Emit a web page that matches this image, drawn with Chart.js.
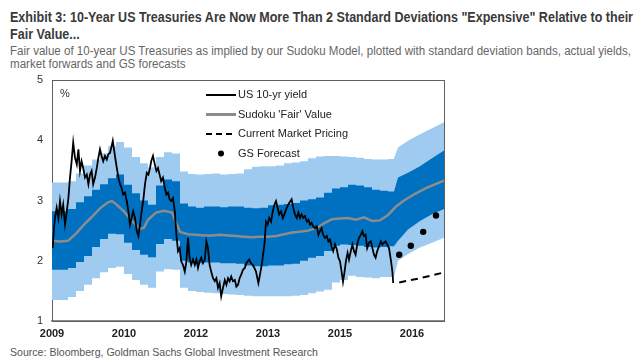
<!DOCTYPE html>
<html>
<head>
<meta charset="utf-8">
<script src="https://cdn.jsdelivr.net/npm/chart.js@4/dist/chart.umd.min.js"></script>
<style>
  html, body { margin: 0; padding: 0; background: #fff; }
  body { width: 640px; height: 361px; position: relative; overflow: hidden; font-family: "Liberation Sans", Arial, sans-serif; }
  .txt { position: absolute; left: 10px; white-space: nowrap; transform-origin: 0 0; }
  .title { font-weight: bold; font-size: 14px; color: #3a3a3a; }
  .sub { font-size: 12.5px; color: #666; }
  .src { font-size: 11.5px; color: #555; }
  #wrap { position: absolute; left: 0; top: 0; width: 640px; height: 361px; }
</style>
</head>
<body>
<div class="txt title" data-w="623" style="top:9px">Exhibit 3: 10-Year US Treasuries Are Now More Than 2 Standard Deviations "Expensive" Relative to their</div>
<div class="txt title" style="top:26px">Fair Value...</div>
<div class="txt sub" data-w="621" style="top:44px">Fair value of 10-year US Treasuries as implied by our Sudoku Model, plotted with standard deviation bands, actual yields,</div>
<div class="txt sub" style="top:57px">market forwards and GS forecasts</div>
<div class="txt src" data-w="308" style="top:346px">Source: Bloomberg, Goldman Sachs Global Investment Research</div>
<div id="wrap"><canvas id="chart"></canvas></div>
<script>
// x values are months since Jan 2009
const tickMonths = [0, 18, 36, 54, 72, 90];
const tickLabels = ["2009", "2010", "2012", "2013", "2015", "2016"];

// US 10-yr yield
const yieldM = [0.17,0.5,0.75,1.17,1.6,2.0,2.4,2.8,3.25,3.7,4.1,4.5,4.9,5.3,5.75,6.2,6.6,7.0,7.4,7.8,8.25,8.7,9.1,9.5,9.9,10.3,10.75,11.2,11.6,12.0,12.4,12.8,13.25,13.7,14.1,14.5,14.9,15.2,15.5,15.8,16.2,16.6,17.0,17.4,17.8,18.25,18.7,19.1,19.5,19.9,20.3,20.75,21.2,21.6,22.0,22.4,22.8,23.25,23.7,24.1,24.5,24.8,25.25,25.7,26.1,26.5,26.9,27.3,27.75,28.2,28.6,29.0,29.4,29.8,30.25,30.7,31.1,31.5,31.9,32.3,32.75,33.2,33.6,34.0,34.4,34.8,35.25,35.7,36.1,36.5,36.9,37.3,37.75,38.2,38.6,39.0,39.4,39.8,40.25,40.7,41.1,41.5,41.9,42.3,42.75,43.2,43.6,44.0,44.4,44.8,45.25,45.7,46.1,46.5,46.9,47.3,47.75,48.2,48.6,48.9,49.3,49.75,50.2,50.6,51.0,51.6,52.0,52.5,53.1,53.5,53.9,54.3,54.75,55.2,55.6,56.0,56.4,56.8,57.25,57.7,58.1,58.5,58.9,59.3,59.9,60.3,60.75,61.2,61.6,62.0,62.4,62.8,63.25,63.7,64.1,64.5,64.9,65.3,65.75,66.2,66.6,67.0,67.4,67.8,68.25,68.7,69.1,69.5,69.9,70.3,70.75,71.2,71.6,72.0,72.4,72.75,73.1,73.5,73.9,74.25,74.7,75.1,75.5,75.9,76.3,76.75,77.2,77.6,78.0,78.4,78.8,79.25,79.7,80.1,80.5,80.9,81.3,81.75,82.2,82.6,83.0,83.4,83.8,84.25,84.7,85.1,85.3];
const yieldV = [2.21,2.54,2.71,2.88,2.71,2.99,2.77,2.93,2.6,2.82,3.04,3.38,3.65,3.96,3.71,3.6,3.85,3.49,3.65,3.54,3.38,3.43,3.27,3.43,3.49,3.27,3.38,3.54,3.71,3.85,3.74,3.65,3.74,3.68,3.77,3.79,3.9,3.99,3.85,3.71,3.54,3.38,3.27,3.21,3.1,3.13,2.99,2.82,2.6,2.71,2.82,2.71,2.49,2.41,2.6,2.82,2.99,3.27,3.46,3.43,3.54,3.65,3.74,3.6,3.49,3.54,3.43,3.32,3.38,3.21,3.1,3.13,3.02,2.99,3.04,2.82,2.43,2.16,2.21,1.99,1.93,1.82,1.99,2.38,2.05,1.93,2.02,1.93,2.02,1.88,1.99,2.05,1.96,2.02,2.32,2.21,1.93,1.82,1.71,1.66,1.71,1.55,1.63,1.41,1.55,1.68,1.6,1.71,1.66,1.74,1.66,1.68,1.57,1.6,1.71,1.77,1.85,1.88,1.96,1.99,2.02,1.96,1.93,1.88,1.82,1.63,1.77,1.96,2.27,2.65,2.6,2.71,2.65,2.82,2.93,2.99,2.88,2.77,2.82,2.71,2.77,2.85,2.91,2.96,3.02,2.88,2.77,2.71,2.8,2.71,2.77,2.71,2.74,2.65,2.68,2.6,2.63,2.57,2.54,2.57,2.43,2.49,2.54,2.43,2.38,2.41,2.32,2.35,2.24,2.16,2.27,2.19,2.05,1.99,1.82,1.65,1.8,2.0,2.13,2.02,2.16,2.27,2.16,2.1,2.27,2.38,2.43,2.49,2.41,2.43,2.21,2.3,2.32,2.21,2.1,2.05,2.16,2.24,2.32,2.27,2.3,2.32,2.27,2.21,2.02,1.82,1.63];

// Sudoku 'Fair' Value
const fairM = [0,2,4,6,8,10,12,14,15,16,18,20,22,23,24,26,28,30,32,34,36,38,40,42,44,46,48,50,52,54,56,58,60,62,64,66,68,70,72,74,76,78,80,82,84,86,88,91,94,98];
const fairV = [2.33,2.32,2.33,2.45,2.6,2.73,2.87,2.97,2.99,2.94,2.82,2.66,2.53,2.55,2.68,2.8,2.83,2.8,2.48,2.44,2.43,2.42,2.42,2.43,2.42,2.41,2.4,2.39,2.4,2.4,2.41,2.44,2.47,2.48,2.5,2.54,2.62,2.69,2.7,2.71,2.68,2.72,2.66,2.67,2.76,2.9,3.0,3.12,3.22,3.33];

// standard deviation bands, history (monthly steps)
const bandM = [0,2,4,6,8,10,12,14,16,18,20,22,24,26,28,30,32,34,36,38,40,42,44,46,48,50,52,54,56,58,60,62,64,66,68,70,72,74,76,78,80,82,84,85.5];
const up2 = [3.30,3.30,3.32,3.45,3.58,3.68,3.78,3.90,3.97,3.88,3.72,3.62,3.55,3.72,3.80,3.78,3.48,3.44,3.43,3.44,3.45,3.43,3.44,3.45,3.52,3.56,3.57,3.57,3.58,3.62,3.63,3.65,3.70,3.73,3.74,3.74,3.73,3.72,3.71,3.69,3.68,3.68,3.69,3.70];
const up1 = [2.82,2.82,2.86,2.97,3.07,3.18,3.27,3.37,3.43,3.26,3.12,3.00,2.93,3.25,3.35,3.32,2.95,2.90,2.88,2.90,2.90,2.89,2.90,2.90,2.88,2.87,2.88,2.92,2.93,2.94,2.96,3.00,3.02,3.05,3.13,3.20,3.22,3.26,3.25,3.22,3.18,3.16,3.15,3.15];
const lo1 = [1.85,1.85,1.88,1.98,2.08,2.23,2.36,2.45,2.44,2.30,2.18,2.10,2.06,2.28,2.36,2.33,2.00,1.97,1.96,1.97,1.97,1.96,1.96,1.95,1.92,1.91,1.91,1.92,1.92,1.94,1.95,2.00,2.05,2.08,2.16,2.25,2.27,2.26,2.25,2.23,2.22,2.23,2.24,2.24];
const lo2 = [1.35,1.35,1.40,1.50,1.60,1.71,1.81,1.88,1.90,1.78,1.68,1.60,1.55,1.82,1.86,1.85,1.55,1.50,1.48,1.47,1.46,1.45,1.44,1.43,1.42,1.41,1.41,1.41,1.41,1.41,1.42,1.43,1.46,1.49,1.52,1.64,1.68,1.75,1.73,1.72,1.71,1.73,1.73,1.73];

// bands, forecast period
const fcBandM = [85.5,86.5,89,92,95,98];
const fcUp2 = [3.70,3.88,3.99,4.10,4.20,4.30];
const fcUp1 = [3.15,3.38,3.46,3.57,3.70,3.83];
const fcLo1 = [2.24,2.33,2.52,2.66,2.77,2.86];
const fcLo2 = [1.73,2.00,2.11,2.22,2.30,2.38];

// Current Market Pricing (forwards)
const fwdM = [86.8, 92, 97.6];
const fwdV = [1.64, 1.71, 1.80];

// GS Forecast
const gsM = [86.8, 89.7, 92.8, 96.0];
const gsV = [2.10, 2.25, 2.48, 2.75];

const LIGHT = "#a0cbf0";
const DARK = "#0070c0";

function pts(xs, ys) { return xs.map((x, i) => ({ x: x, y: ys[i] })); }

function band(xs, ys, color, fill, order, stepped) {
    return {
        data: pts(xs, ys), borderWidth: 0, pointRadius: 0, order: order,
        stepped: stepped, fill: fill ? "+1" : false, backgroundColor: color
    };
}

// fit the header lines to the widths they have in the picture
document.querySelectorAll(".txt[data-w]").forEach(el => {
    const k = parseFloat(el.dataset.w) / el.getBoundingClientRect().width;
    el.style.transform = "scaleX(" + k + ")";
    const next = el.nextElementSibling;
    if (next && next.classList.contains("txt") && !next.dataset.w && next.className === el.className) {
        next.style.transform = "scaleX(" + k + ")";
    }
});

const legendItems = [
    { label: "US 10-yr yield", kind: "line", color: "#000", dash: [] },
    { label: "Sudoku 'Fair' Value", kind: "line", color: "#8c8c8c", dash: [] },
    { label: "Current Market Pricing", kind: "line", color: "#000", dash: [6, 4] },
    { label: "GS Forecast", kind: "dot", color: "#000" }
];

const frameAndLegend = {
    id: "frameAndLegend",
    beforeDatasetsDraw(chart) {
        const { ctx, chartArea: a } = chart;
        ctx.save();
        ctx.strokeStyle = "#606060";
        ctx.lineWidth = 1;
        ctx.strokeRect(Math.round(a.left) + 0.5, Math.round(a.top) + 0.5, Math.round(a.right - a.left), Math.round(a.bottom - a.top));
        ctx.restore();
    },
    afterDatasetsDraw(chart) {
        const { ctx, chartArea: a } = chart;
        ctx.save();
        ctx.fillStyle = "#333";
        ctx.font = "11px 'Liberation Sans', Arial, sans-serif";
        ctx.textBaseline = "middle";
        ctx.fillText("%", a.left + 8, a.top + 14);
        const x0 = a.left + 154, y0 = a.top + 15, dy = 19.5;
        legendItems.forEach((it, i) => {
            const y = y0 + i * dy;
            if (it.kind === "line") {
                ctx.strokeStyle = it.color;
                ctx.lineWidth = it.color === "#000" ? 2 : 3;
                ctx.setLineDash(it.dash);
                ctx.beginPath();
                ctx.moveTo(x0, y);
                ctx.lineTo(x0 + 30, y);
                ctx.stroke();
                ctx.setLineDash([]);
            } else {
                ctx.fillStyle = it.color;
                ctx.beginPath();
                ctx.arc(x0 + 15, y, 3, 0, Math.PI * 2);
                ctx.fill();
            }
            ctx.fillStyle = "#222";
            ctx.fillText(it.label, x0 + 32, y);
        });
        ctx.restore();
    }
};

new Chart(document.getElementById("chart"), {
    type: "line",
    data: {
        datasets: [
            { label: "US 10-yr yield", data: pts(yieldM, yieldV), borderColor: "#000", borderWidth: 1.8, pointRadius: 0, order: 0, tension: 0 },
            { label: "Sudoku 'Fair' Value", data: pts(fairM, fairV), borderColor: "#8c8c8c", borderWidth: 2.5, pointRadius: 0, order: 0 },
            { label: "Current Market Pricing", data: pts(fwdM, fwdV), borderColor: "#000", borderWidth: 2, borderDash: [7, 5], pointRadius: 0, order: 0 },
            { label: "GS Forecast", data: pts(gsM, gsV), showLine: false, pointRadius: 3.2, pointBackgroundColor: "#000", pointBorderWidth: 0, order: 0 },
            band(bandM, up1, DARK, true, 1, true),
            band(bandM, lo1, DARK, false, 1, true),
            band(fcBandM, fcUp1, DARK, true, 1, false),
            band(fcBandM, fcLo1, DARK, false, 1, false),
            band(bandM, up2, LIGHT, true, 2, true),
            band(bandM, lo2, LIGHT, false, 2, true),
            band(fcBandM, fcUp2, LIGHT, true, 2, false),
            band(fcBandM, fcLo2, LIGHT, false, 2, false)
        ]
    },
    options: {
        responsive: true,
        maintainAspectRatio: false,
        animation: false,
        events: [],
        layout: { padding: { left: 0, right: 196, top: 80, bottom: 20 } },
        plugins: { legend: { display: false }, tooltip: { enabled: false } },
        scales: {
            x: {
                type: "linear", min: 0, max: 98,
                afterBuildTicks: s => { s.ticks = tickMonths.map(v => ({ value: v })); },
                afterFit: s => { s.height = 20; },
                grid: { display: false, drawTicks: false },
                border: { color: "#8a8a8a", width: 1.5 },
                ticks: {
                    padding: 6, color: "#222", maxRotation: 0, autoSkip: false,
                    font: { family: "'Liberation Sans', Arial, sans-serif", size: 11, weight: "bold" },
                    callback: v => tickLabels[tickMonths.indexOf(v)]
                }
            },
            y: {
                min: 1, max: 5,
                afterFit: s => { s.width = 52; },
                grid: { display: false, drawTicks: false },
                border: { color: "#606060" },
                ticks: {
                    stepSize: 1, padding: 9, color: "#333",
                    font: { family: "'Liberation Sans', Arial, sans-serif", size: 11 }
                }
            }
        }
    },
    plugins: [frameAndLegend]
});
</script>
</body>
</html>
